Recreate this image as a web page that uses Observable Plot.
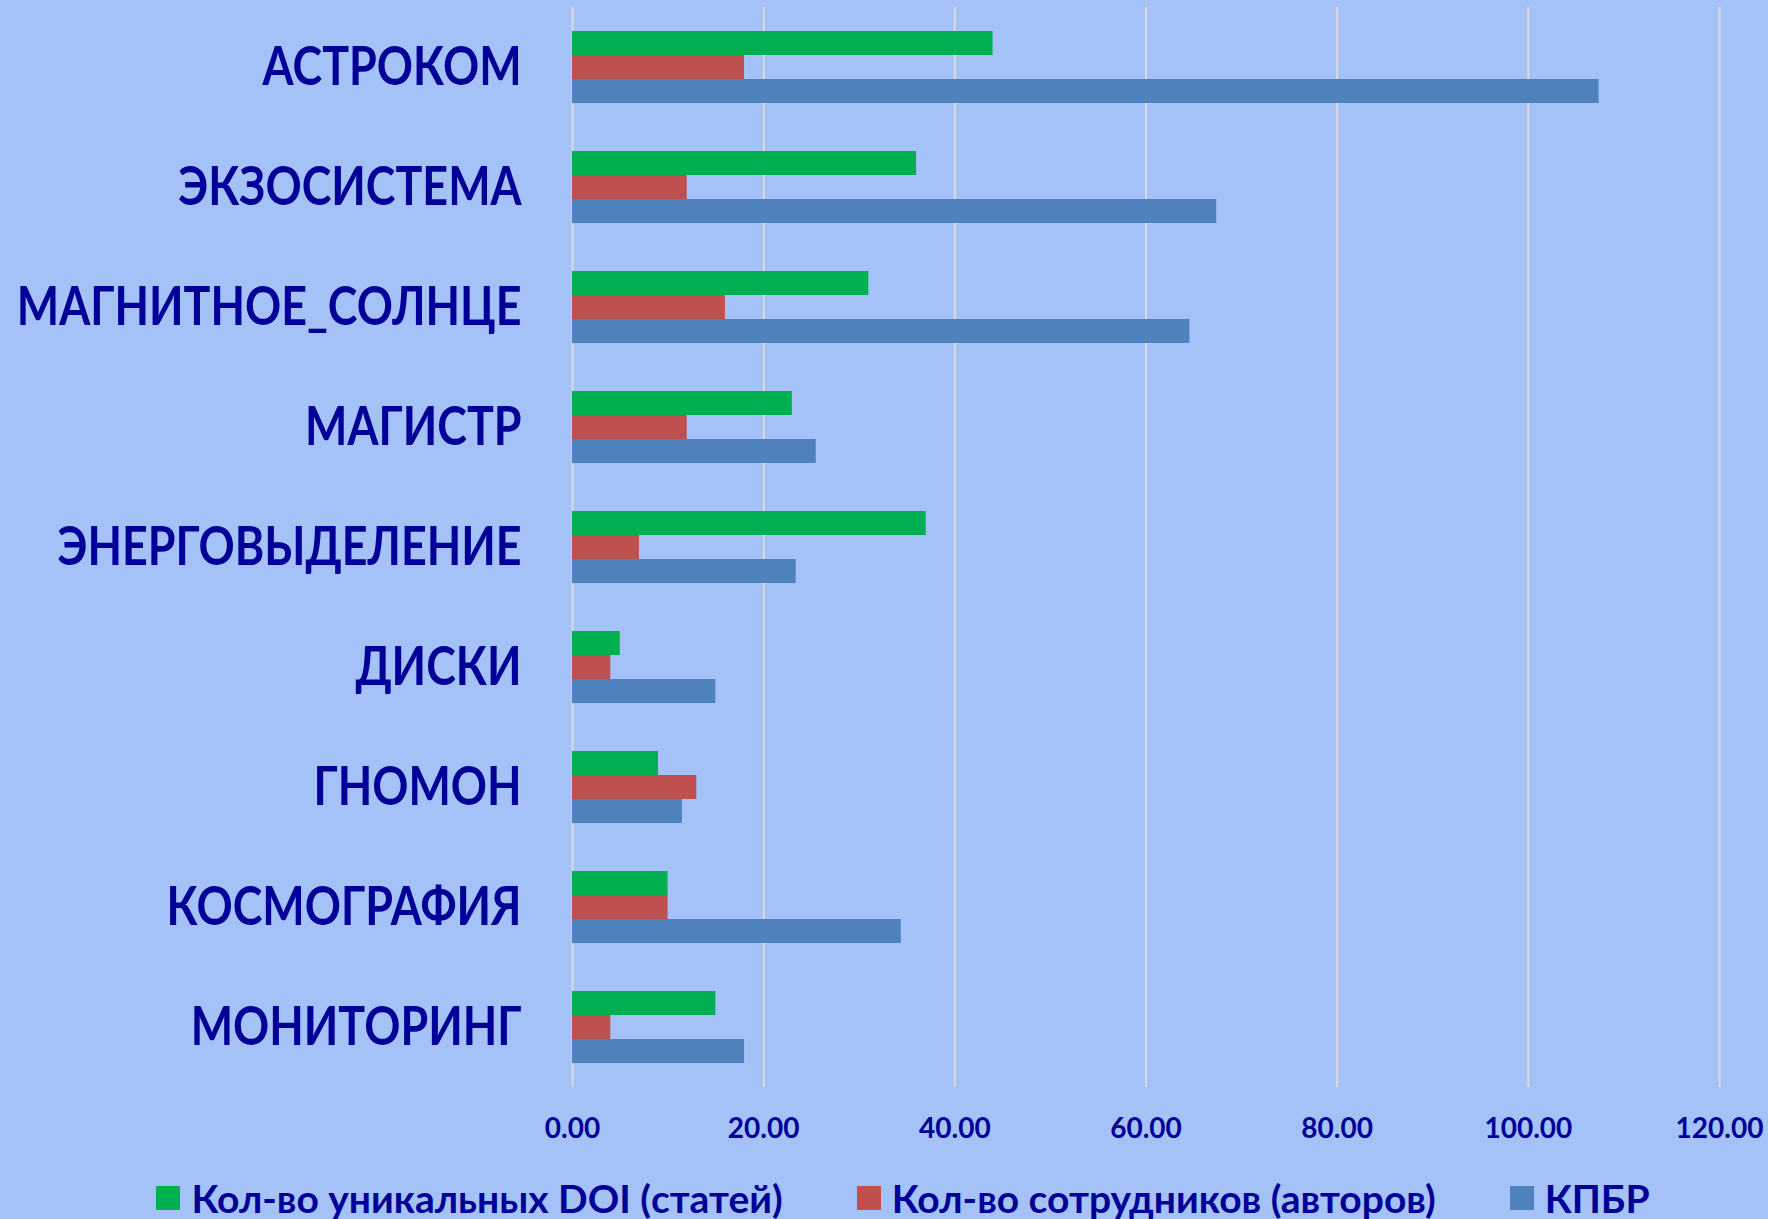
<!DOCTYPE html>
<html><head><meta charset="utf-8">
<script src="https://cdn.jsdelivr.net/npm/d3@7"></script>
<script src="https://cdn.jsdelivr.net/npm/@observablehq/plot@0.6"></script>
<style>
html,body{margin:0;padding:0;background:#A4C2F7;}
body{width:1768px;height:1219px;overflow:hidden;font-family:Lato,"Open Sans",sans-serif;color:#000099;}
#chart svg{display:block;}
#legend{display:flex;justify-content:center;align-items:center;height:43px;padding-top:26px;padding-left:38px;font-weight:bold;font-size:39px;color:#000099;}
.item{display:flex;align-items:center;margin:0 37px;}
.sw{width:24px;height:24px;margin-right:11px;}
</style></head><body>
<div id="chart"></div><div id="legend"></div>
<script>
const categories = ["АСТРОКОМ","ЭКЗОСИСТЕМА","МАГНИТНОЕ_СОЛНЦЕ","МАГИСТР","ЭНЕРГОВЫДЕЛЕНИЕ","ДИСКИ","ГНОМОН","КОСМОГРАФИЯ","МОНИТОРИНГ"];
const seriesNames = ["Кол-во уникальных DOI (статей)","Кол-во сотрудников (авторов)","КПБР"];
const doiCounts = [44,36,31,23,37,5,9,10,15];
const authorCounts = [18,12,16,12,7,4,13,10,4];
const kpbr = [107.4,67.4,64.6,25.5,23.4,15.0,11.5,34.4,18.0];
const xTicks = [0,20,40,60,80,100,120];
const colors = ["#00B050","#C0504D","#4F81BD"];

const seriesValues = [doiCounts, authorCounts, kpbr];
const rows = [];
categories.forEach((c, i) => seriesNames.forEach((s, j) => rows.push({category: c, series: s, value: seriesValues[j][i]})));

const chart = Plot.plot({
  width: 1768,
  height: 1150,
  marginTop: 7,
  marginBottom: 63,
  marginLeft: 572,
  marginRight: 49,
  style: {background: "transparent", color: "#000099", fontFamily: "Lato, 'Open Sans', sans-serif"},
  x: {domain: [0, 120], axis: null},
  y: {domain: seriesNames, axis: null, paddingInner: 0, paddingOuter: 0.93},
  fy: {domain: categories, paddingInner: 0, paddingOuter: 0, axis: null},
  color: {domain: seriesNames, range: colors},
  marks: [
    Plot.ruleX(xTicks, {stroke: "#D9D9D9", strokeWidth: 2}),
    Plot.barX(rows, {x: "value", y: "series", fy: "category", fill: "series"}),
    Plot.axisX({ticks: xTicks, tickFormat: d3.format(".2f"), tickSize: 0, tickPadding: 31, fontSize: 28, fontWeight: "bold", label: null}),
    Plot.axisFy({anchor: "left", tickSize: 0, tickPadding: 51, fontSize: 54, fontWeight: "bold", label: null})
  ]
});
document.getElementById("chart").appendChild(chart);

// condense the category labels (the reference uses a narrow face)
chart.querySelectorAll("text").forEach(t => {
  if (categories.includes(t.textContent)) {
    const w = t.getComputedTextLength();
    t.setAttribute("textLength", (w * 0.83).toFixed(1));
    t.setAttribute("lengthAdjust", "spacingAndGlyphs");
  }
});

const legend = document.getElementById("legend");
seriesNames.forEach((s, i) => {
  const it = document.createElement("div"); it.className = "item";
  const sw = document.createElement("div"); sw.className = "sw"; sw.style.background = colors[i];
  const t = document.createElement("span"); t.textContent = s;
  it.appendChild(sw); it.appendChild(t); legend.appendChild(it);
});
</script>
</body></html>
